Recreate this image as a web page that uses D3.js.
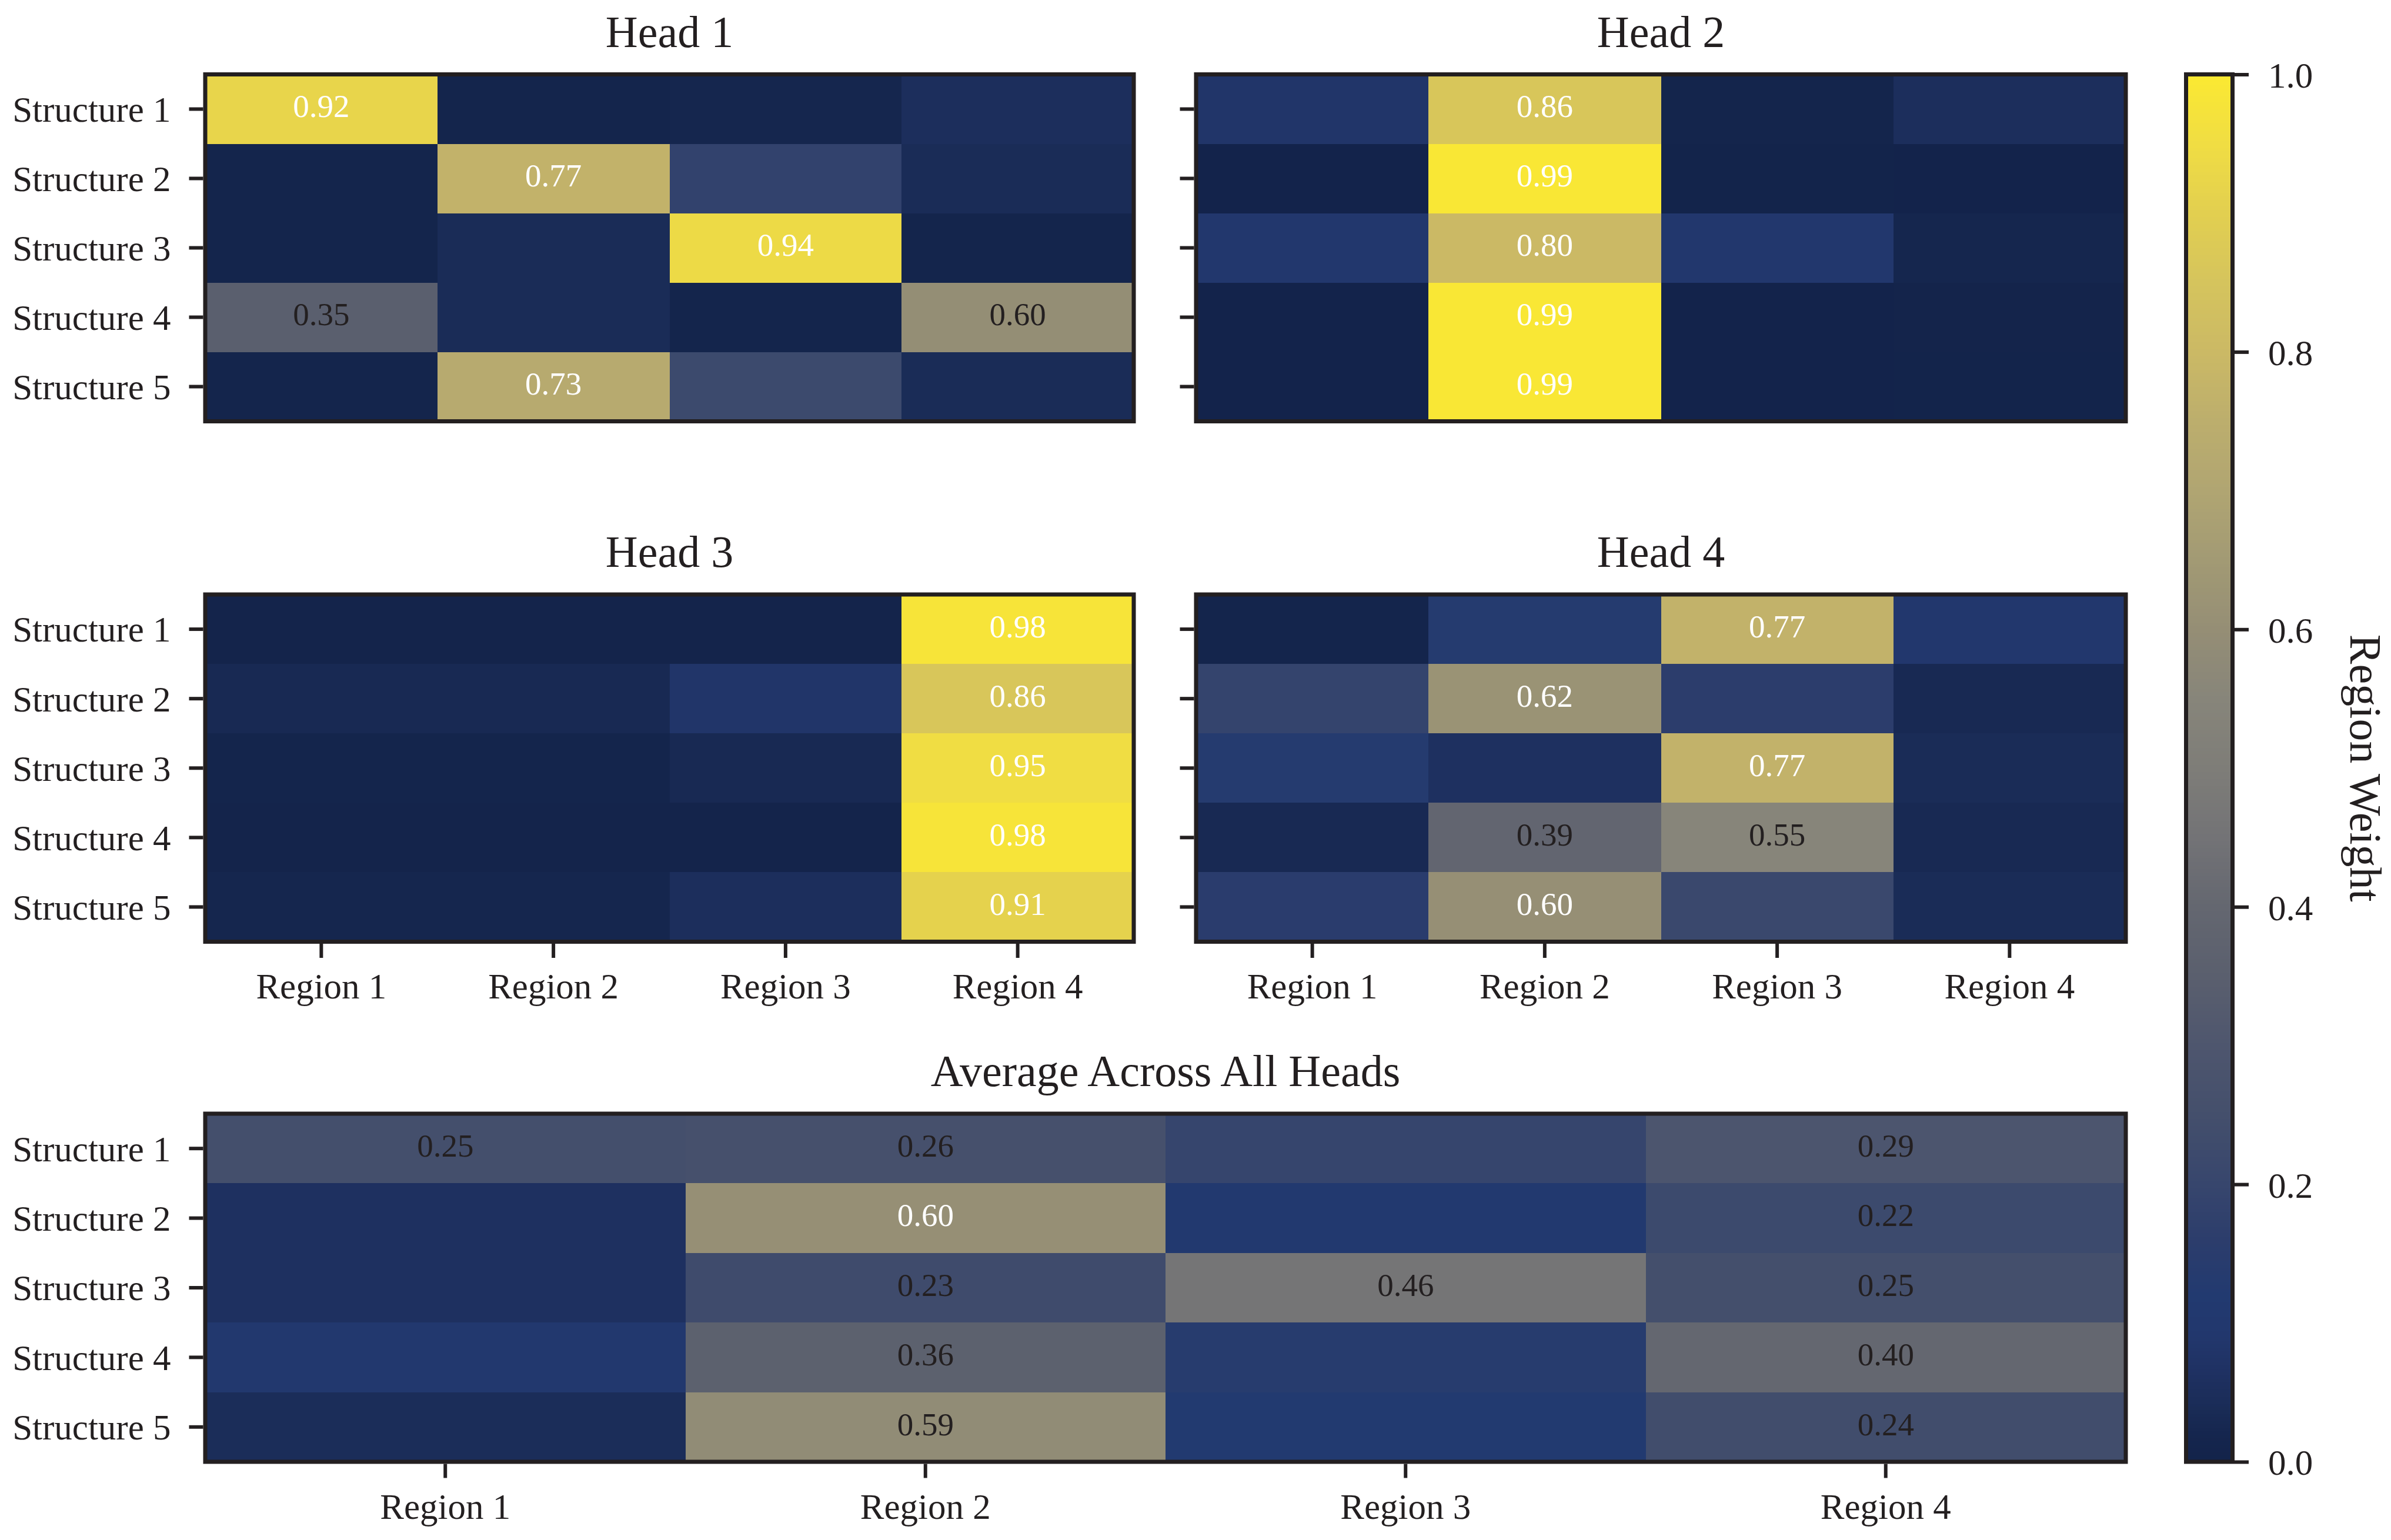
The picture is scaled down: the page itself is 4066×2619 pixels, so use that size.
<!DOCTYPE html>
<html>
<head>
<meta charset="utf-8">
<script src="https://cdn.jsdelivr.net/npm/d3@7/dist/d3.min.js"></script>
<style>
  html, body { margin: 0; padding: 0; background: #ffffff; }
  svg { display: block; }
  text { font-family: "Liberation Serif", "Times New Roman", serif; fill: #231f20; }
</style>
</head>
<body>
<svg id="chart" width="4066" height="2619"></svg>
<script>
// ---------------- DATA ----------------
const structures = ["Structure 1", "Structure 2", "Structure 3", "Structure 4", "Structure 5"];
const regions = ["Region 1", "Region 2", "Region 3", "Region 4"];
const titles = ["Head 1", "Head 2", "Head 3", "Head 4", "Average Across All Heads"];
const colorbarTicks = [0.0, 0.2, 0.4, 0.6, 0.8, 1.0];
const colorbarLabel = "Region Weight";

const head1 = [
  [0.92, 0.01, 0.02, 0.05],
  [0.01, 0.77, 0.18, 0.04],
  [0.01, 0.04, 0.94, 0.01],
  [0.35, 0.04, 0.01, 0.598],
  [0.01, 0.73, 0.22, 0.04]
];
const head2 = [
  [0.08, 0.86, 0.01, 0.05],
  [0.003, 0.99, 0.004, 0.003],
  [0.09, 0.80, 0.09, 0.02],
  [0.003, 0.99, 0.003, 0.006],
  [0.003, 0.99, 0.003, 0.004]
];
const head3 = [
  [0.007, 0.007, 0.006, 0.98],
  [0.03, 0.03, 0.08, 0.86],
  [0.01, 0.01, 0.03, 0.95],
  [0.007, 0.006, 0.005, 0.98],
  [0.02, 0.02, 0.05, 0.91]
];
const head4 = [
  [0.01, 0.13, 0.77, 0.09],
  [0.19, 0.62, 0.16, 0.03],
  [0.13, 0.06, 0.77, 0.04],
  [0.03, 0.39, 0.55, 0.03],
  [0.15, 0.603, 0.21, 0.04]
];
const average = [
  [0.25, 0.26, 0.197, 0.29],
  [0.06, 0.604, 0.11, 0.22],
  [0.06, 0.23, 0.46, 0.25],
  [0.10, 0.36, 0.14, 0.40],
  [0.045, 0.587, 0.12, 0.24]
];

// ---------------- STYLE ----------------
const INK = "#231f20";
const FONT_TICK = 61, FONT_TITLE = 76, FONT_ANN = 55;
// cividis-like palette as printed in the reference
const paletteStops = [0.00, 0.02, 0.04, 0.06, 0.09, 0.12, 0.16, 0.20, 0.25, 0.30, 0.35, 0.40, 0.45, 0.50, 0.55, 0.60, 0.65, 0.70, 0.75, 0.80, 0.85, 0.90, 0.95, 1.00];
const paletteColors = ["#13234a", "#15264e", "#1a2c57", "#1e3060", "#22376d", "#223a70", "#2c3d6c", "#37466d", "#444f6c", "#4e566e", "#5a5f6e", "#646770", "#737376", "#7e7d78", "#87857a", "#958e75", "#a29a74", "#b0a572", "#bcae6d", "#cbb965", "#d5c45d", "#e2cf50", "#f0dd43", "#fbe932"];
const color = d3.scaleLinear().domain(paletteStops).range(paletteColors).interpolate(d3.interpolateRgb).clamp(true);

const svg = d3.select("#chart");
svg.append("rect").attr("width", 4066).attr("height", 2619).attr("fill", "#ffffff");

const COL_L = [349, 1928], COL_R = [2034, 3615];
const ROW_T = [126.5, 716.5], ROW_M = [1011, 1601.5], ROW_B = [1894, 2486];
const FRAME = 7, TICK_LEN = 24, TICK_W = 6;

function styleAxis(ax) {
  ax.select(".domain").remove();
  ax.selectAll(".tick line").attr("stroke", INK).attr("stroke-width", TICK_W);
  ax.selectAll(".tick text").attr("fill", INK).style("font-size", FONT_TICK + "px")
    .style("font-family", '"Liberation Serif", "Times New Roman", serif');
}

function heatmap(data, xr, yr, title, opts) {
  const g = svg.append("g");
  const x = d3.scaleBand().domain(regions).range(xr);
  const y = d3.scaleBand().domain(structures).range(yr);
  const cells = [];
  data.forEach((row, i) => row.forEach((v, j) => cells.push({ s: structures[i], r: regions[j], v })));

  g.selectAll("rect.cell").data(cells).enter().append("rect")
    .attr("class", "cell")
    .attr("x", d => x(d.r)).attr("y", d => y(d.s))
    .attr("width", x.bandwidth() + 0.6).attr("height", y.bandwidth() + 0.6)
    .attr("fill", d => color(d.v))
    .attr("shape-rendering", "crispEdges");

  g.selectAll("text.ann").data(cells.filter(d => d.v > opts.annThresh)).enter().append("text")
    .attr("class", "ann")
    .attr("x", d => x(d.r) + x.bandwidth() / 2)
    .attr("y", d => y(d.s) + y.bandwidth() / 2 + 0.25 * FONT_ANN)
    .attr("text-anchor", "middle")
    .style("font-size", FONT_ANN + "px")
    .style("fill", d => d.v > 0.6 ? "#ffffff" : INK)
    .text(d => d3.format(".2f")(d.v));

  // frame
  g.append("rect")
    .attr("x", xr[0]).attr("y", yr[0])
    .attr("width", xr[1] - xr[0]).attr("height", yr[1] - yr[0])
    .attr("fill", "none").attr("stroke", INK).attr("stroke-width", FRAME);

  // y axis
  const yAxis = d3.axisLeft(y).tickSize(TICK_LEN).tickPadding(31);
  if (!opts.yLabels) yAxis.tickFormat(() => "");
  const ya = g.append("g").attr("transform", `translate(${xr[0] - FRAME / 2},0)`).call(yAxis);
  styleAxis(ya);
  ya.selectAll(".tick text").attr("dy", "0.35em");

  // x axis
  if (opts.xAxis) {
    const xa = g.append("g").attr("transform", `translate(0,${yr[1] + FRAME / 2})`)
      .call(d3.axisBottom(x).tickSize(TICK_LEN));
    styleAxis(xa);
    xa.selectAll(".tick text").attr("y", 93).attr("dy", 0);
  }

  // title
  g.append("text")
    .attr("x", (xr[0] + xr[1]) / 2).attr("y", yr[0] - 47)
    .attr("text-anchor", "middle")
    .style("font-size", FONT_TITLE + "px")
    .text(title);
}

heatmap(head1, COL_L, ROW_T, titles[0], { yLabels: true, xAxis: false, annThresh: 0.3 });
heatmap(head2, COL_R, ROW_T, titles[1], { yLabels: false, xAxis: false, annThresh: 0.3 });
heatmap(head3, COL_L, ROW_M, titles[2], { yLabels: true, xAxis: true, annThresh: 0.3 });
heatmap(head4, COL_R, ROW_M, titles[3], { yLabels: false, xAxis: true, annThresh: 0.3 });
heatmap(average, [COL_L[0], COL_R[1]], ROW_B, titles[4], { yLabels: true, xAxis: true, annThresh: 0.2 });

// ---------------- COLORBAR ----------------
const CB_X = [3717.5, 3796.5], CB_Y = [ROW_T[0], ROW_B[1]];
const cb = svg.append("g");
const cScale = d3.scaleLinear().domain([0, 1]).range([CB_Y[1], CB_Y[0]]);
const N = 400;
const steps = d3.range(N).map(i => i / N);
cb.selectAll("rect.grad").data(steps).enter().append("rect")
  .attr("class", "grad")
  .attr("x", CB_X[0]).attr("width", CB_X[1] - CB_X[0])
  .attr("y", d => cScale(d + 1 / N))
  .attr("height", d => cScale(d) - cScale(d + 1 / N) + 0.8)
  .attr("fill", d => color(d + 0.5 / N))
  .attr("shape-rendering", "crispEdges");
cb.append("rect")
  .attr("x", CB_X[0]).attr("y", CB_Y[0])
  .attr("width", CB_X[1] - CB_X[0]).attr("height", CB_Y[1] - CB_Y[0])
  .attr("fill", "none").attr("stroke", INK).attr("stroke-width", FRAME);
const cbAxis = cb.append("g").attr("transform", `translate(${CB_X[1] + FRAME / 2},0)`)
  .call(d3.axisRight(cScale).tickValues(colorbarTicks).tickFormat(d3.format(".1f")).tickSize(TICK_LEN).tickPadding(33));
styleAxis(cbAxis);
cbAxis.selectAll(".tick text").attr("dy", "0.36em");

cb.append("text")
  .attr("transform", `translate(3997,${(CB_Y[0] + CB_Y[1]) / 2}) rotate(90)`)
  .attr("text-anchor", "middle")
  .style("font-size", FONT_TITLE + "px")
  .text(colorbarLabel);
</script>
</body>
</html>
